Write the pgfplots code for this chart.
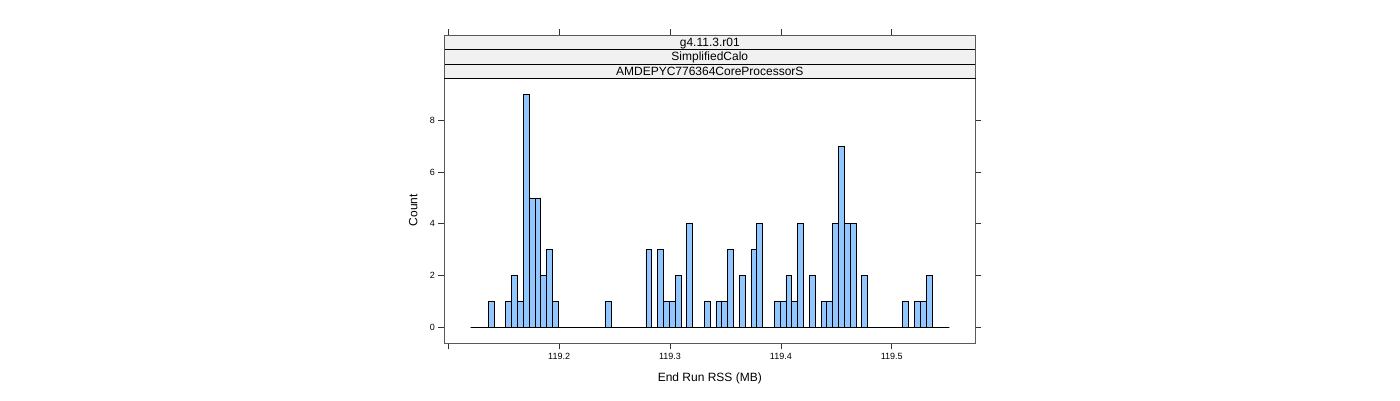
\documentclass[border=0pt]{standalone}
\usepackage{fontspec}
\setmainfont{Liberation Sans}
\usepackage{pgfplots}
\pgfplotsset{compat=1.18}
\definecolor{barblue}{RGB}{145,198,255}
\definecolor{stripbg}{RGB}{241,241,241}
\begin{document}
\begin{tikzpicture}
\path[use as bounding box] (0pt,0pt) rectangle (1400pt,400pt);
\begin{axis}[
  at={(444.3pt,56.7pt)}, anchor=south west,
  scale only axis, width=531pt, height=265pt,
  xmin=119.0964, xmax=119.5754, ymin=-0.618, ymax=9.614,
  xtick={119.1,119.2,119.3,119.4,119.5},
  xticklabels={,119.2,119.3,119.4,119.5},
  ytick={0,2,4,6,8},
  tick align=outside, xtick pos=bottom, ytick pos=both, yticklabel pos=left,
  major tick length=6pt,
  tick style={black!80, line width=0.6pt},
  axis line style={black!65, line width=0.9pt},
  ticklabel style={font=\fontsize{9}{10}\selectfont},
  /pgf/number format/assume math mode=true,
  xlabel={End Run RSS (MB)}, ylabel={Count},
  label style={font=\fontsize{12}{14}\selectfont},
  x label style={at={(axis description cs:0.5,-0.131)},anchor=center},
  y label style={at={(axis description cs:-0.0584,0.503)},anchor=center},
  clip=false,
]
\addplot[ybar interval, fill=barblue, draw=black, line width=0.6pt] coordinates {
(119.1202,0) (119.1255,0) (119.1307,0) (119.1360,1) (119.1413,0) (119.1465,0)
(119.1518,1) (119.1571,2) (119.1623,1) (119.1676,9) (119.1729,5) (119.1781,5)
(119.1834,2) (119.1887,3) (119.1939,1) (119.1992,0) (119.2045,0) (119.2097,0)
(119.2150,0) (119.2203,0) (119.2255,0) (119.2308,0) (119.2361,0) (119.2413,1)
(119.2466,0) (119.2519,0) (119.2571,0) (119.2624,0) (119.2677,0) (119.2729,0)
(119.2782,3) (119.2835,0) (119.2887,3) (119.2940,1) (119.2992,1) (119.3045,2)
(119.3098,0) (119.3150,4) (119.3203,0) (119.3256,0) (119.3308,1) (119.3361,0)
(119.3414,1) (119.3466,1) (119.3519,3) (119.3572,0) (119.3624,2) (119.3677,0)
(119.3730,3) (119.3782,4) (119.3835,0) (119.3888,0) (119.3940,1) (119.3993,1)
(119.4046,2) (119.4098,1) (119.4151,4) (119.4204,0) (119.4256,2) (119.4309,0)
(119.4362,1) (119.4414,1) (119.4467,4) (119.4520,7) (119.4572,4) (119.4625,4)
(119.4678,0) (119.4730,2) (119.4783,0) (119.4836,0) (119.4888,0) (119.4941,0)
(119.4994,0) (119.5046,0) (119.5099,1) (119.5152,0) (119.5204,1) (119.5257,1)
(119.5310,2) (119.5362,0) (119.5415,0) (119.5468,0) (119.5520,0)
};
% strips
\draw[fill=stripbg, draw=black, line width=0.6pt] (rel axis cs:0,1) rectangle (rel axis cs:1,1.05447);
\draw[fill=stripbg, draw=black, line width=0.6pt] (rel axis cs:0,1.05447) rectangle (rel axis cs:1,1.10894);
\draw[fill=stripbg, draw=black, line width=0.6pt] (rel axis cs:0,1.10894) rectangle (rel axis cs:1,1.16341);
\draw[black!65, line width=0.9pt] (rel axis cs:0,1) -- (rel axis cs:0,1.16341) -- (rel axis cs:1,1.16341) -- (rel axis cs:1,1);
\node[font=\fontsize{12}{14}\selectfont, inner sep=0pt, anchor=base, yshift=-4.3pt] at (rel axis cs:0.5,1.02723) {AMDEPYC776364CoreProcessorS};
\node[font=\fontsize{12}{14}\selectfont, inner sep=0pt, anchor=base, yshift=-4.3pt] at (rel axis cs:0.5,1.08170) {SimplifiedCalo};
\node[font=\fontsize{12}{14}\selectfont, inner sep=0pt, anchor=base, yshift=-4.3pt] at (rel axis cs:0.5,1.13617) {g4.11.3.r01};
\draw[black!80, line width=0.6pt] (rel axis cs:0.007516,1.16341) -- (rel axis cs:0.007516,1.18605);
\draw[black!80, line width=0.6pt] (rel axis cs:0.216284,1.16341) -- (rel axis cs:0.216284,1.18605);
\draw[black!80, line width=0.6pt] (rel axis cs:0.425052,1.16341) -- (rel axis cs:0.425052,1.18605);
\draw[black!80, line width=0.6pt] (rel axis cs:0.633820,1.16341) -- (rel axis cs:0.633820,1.18605);
\draw[black!80, line width=0.6pt] (rel axis cs:0.842589,1.16341) -- (rel axis cs:0.842589,1.18605);
\end{axis}
\end{tikzpicture}
\end{document}
